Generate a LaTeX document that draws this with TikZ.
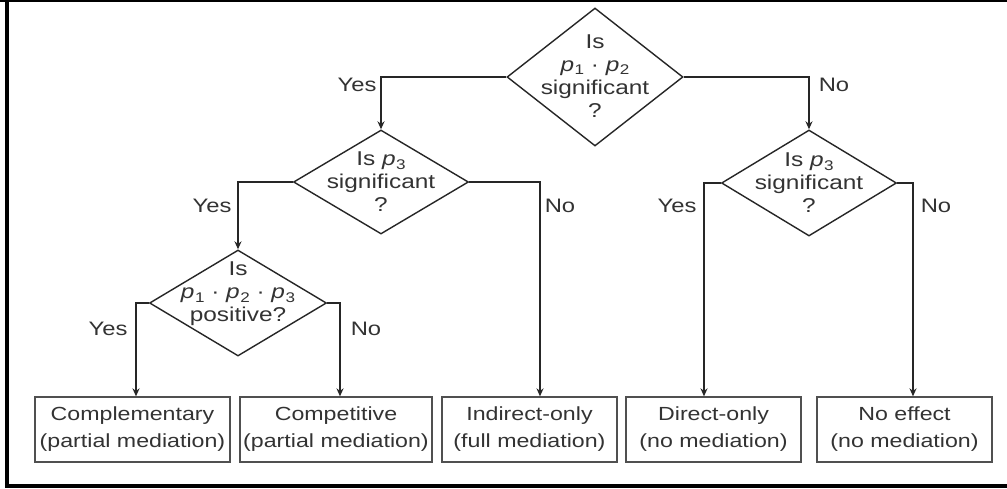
\documentclass[tikz,border=0pt]{standalone}
\usepackage{fontspec}
\setmainfont[FakeStretch=1.22]{Liberation Sans}
\usetikzlibrary{shapes.geometric,arrows.meta}
\definecolor{linec}{HTML}{262626}
\definecolor{boxc}{HTML}{505050}
\definecolor{txt}{HTML}{333333}
\newcommand{\pv}[1]{{\itshape p}\kern0.5pt\raisebox{-0.18em}{\fontsize{14}{14}\selectfont #1}}
\begin{document}
\begin{tikzpicture}[x=1pt,y=-1pt,
  dec/.style={diamond, draw=linec, line width=1.4pt, inner sep=0pt},
  dtext/.style={align=center, text=txt, font=\fontsize{20}{23}\selectfont, inner sep=0pt},
  res/.style={draw=boxc, line width=1.3pt, minimum height=65pt, inner sep=0pt, align=center, text=txt, font=\fontsize{19}{27}\selectfont},
  lab/.style={text=txt, font=\fontsize{19.5}{22}\selectfont, inner sep=0pt},
  arr/.style={draw=linec, line width=1.4pt, -{Stealth[length=8pt,width=7pt]}}]
\useasboundingbox (0,0) rectangle (1007,488);
\fill[white] (0,0) rectangle (1007,488);
% frame
\draw[line width=1.5pt] (0,0.75) -- (1007,0.75);
\draw[line width=4pt] (7,0) -- (7,488);
\draw[line width=4.5pt] (5,485.75) -- (1007,485.75);
% decision diamonds
\node[dec, minimum width=176pt, minimum height=138pt] (d1) at (595,77) {};
\node[dec, minimum width=175pt, minimum height=104pt] (d2) at (381,182) {};
\node[dec, minimum width=177pt, minimum height=106pt] (d3) at (238,303) {};
\node[dec, minimum width=175pt, minimum height=106pt] (d4) at (809,183) {};
\node[dtext] (t1) at (595,76) {Is\\\pv{1} · \pv{2}\\significant\\?};
\node[dtext] (t2) at (381,182) {Is \pv{3}\\significant\\?};
\node[dtext] (t3) at (238,294) {Is\\\pv{1} · \pv{2} · \pv{3}\\positive?};
\node[dtext] (t4) at (809,183) {Is \pv{3}\\significant\\?};
% result boxes
\node[res, minimum width=195pt] (b1) at (132.5,429.5) {Complementary\\(partial mediation)};
\node[res, minimum width=192pt] (b2) at (336,429.5) {Competitive\\(partial mediation)};
\node[res, minimum width=175pt] (b3) at (529.5,429.5) {Indirect-only\\(full mediation)};
\node[res, minimum width=175pt] (b4) at (713.5,429.5) {Direct-only\\(no mediation)};
\node[res, minimum width=175pt] (b5) at (904.5,429.5) {No effect\\(no mediation)};
% connectors
\draw[arr] (d1.west) -| (d2.north);
\draw[arr] (d1.east) -| (d4.north);
\draw[arr] (d2.west) -| (d3.north);
\draw[arr] (d2.east) -| ([xshift=10.5pt]b3.north);
\draw[arr] (d3.west) -| ([xshift=3.5pt]b1.north);
\draw[arr] (d3.east) -| ([xshift=4pt]b2.north);
\draw[arr] (d4.west) -| ([xshift=-9.5pt]b4.north);
\draw[arr] (d4.east) -| ([xshift=8.5pt]b5.north);
% labels
\node[lab] (l1) at (357,85) {Yes};
\node[lab] (l2) at (834,85) {No};
\node[lab] (l3) at (212,206) {Yes};
\node[lab] (l4) at (560,206) {No};
\node[lab] (l5) at (108,329) {Yes};
\node[lab] (l6) at (366,329) {No};
\node[lab] (l7) at (677,206) {Yes};
\node[lab] (l8) at (936,206) {No};
\end{tikzpicture}
\end{document}
